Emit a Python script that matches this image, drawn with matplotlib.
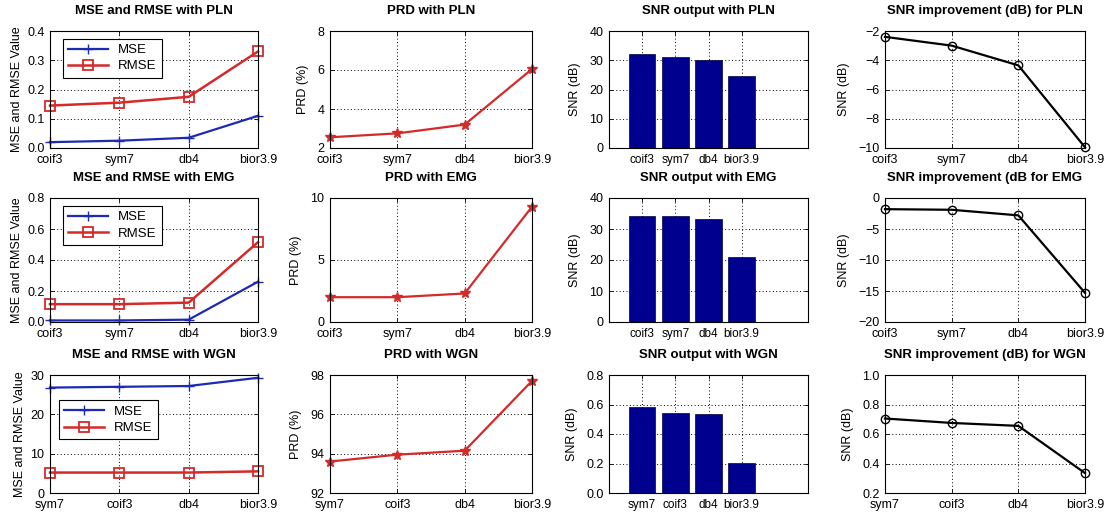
import matplotlib
matplotlib.use("Agg")
import matplotlib.pyplot as plt

plt.rcParams['font.family'] = ['Liberation Sans', 'DejaVu Sans']

# wavelet labels
labels_a = ["coif3", "sym7", "db4", "bior3.9"]
labels_b = ["sym7", "coif3", "db4", "bior3.9"]

# MSE / RMSE
mse_pln = [0.02, 0.025, 0.035, 0.11]
rmse_pln = [0.145, 0.155, 0.175, 0.33]
mse_emg = [0.01, 0.01, 0.015, 0.26]
rmse_emg = [0.115, 0.115, 0.125, 0.515]
mse_wgn = [26.8, 27.0, 27.2, 29.3]
rmse_wgn = [5.2, 5.2, 5.2, 5.5]

# PRD (%)
prd_pln = [2.55, 2.75, 3.2, 6.05]
prd_emg = [2.0, 2.0, 2.3, 9.3]
prd_wgn = [93.6, 93.95, 94.15, 97.7]

# SNR output (dB)
snr_pln = [32.0, 31.2, 30.0, 24.6]
snr_emg = [34.3, 34.3, 33.3, 21.0]
snr_wgn = [0.58, 0.545, 0.535, 0.205]

# SNR improvement (dB)
imp_pln = [-2.4, -3.0, -4.35, -9.95]
imp_emg = [-1.8, -1.9, -2.8, -15.3]
imp_wgn = [0.705, 0.675, 0.655, 0.335]

W, H = 1109, 512
cols = [(50, 258), (330, 532), (609, 808), (885, 1085)]
rows = [(31, 148), (198, 322), (375, 493)]

BLUE = "#1c2ab4"
RED = "#d42a2a"
NAVY = "#00008f"


def MakeAx(fig, r, c):
    l, rr = cols[c]
    t, b = rows[r]
    ax = fig.add_axes([l / W, 1 - b / H, (rr - l) / W, (b - t) / H])
    ax.tick_params(direction="in", length=3, width=0.6, labelsize=9,
                   top=True, right=True)
    ax.tick_params(axis="y", pad=4)
    ax.tick_params(axis="x", pad=4)
    for s in ax.spines.values():
        s.set_linewidth(0.8)
    ax.grid(True, linestyle=(0, (1, 2.5)), color="black", linewidth=0.7)
    return ax


def SetTitle(ax, title):
    ax.set_title(title, fontsize=9.5, fontweight="bold", pad=12)


def LinePanel(ax, labels, ys, yl, yticks, ylabel, title, color, marker, ms, mfc):
    x = range(1, len(labels) + 1)
    ax.plot(x, ys, color=color, marker=marker, markersize=ms,
            markerfacecolor=mfc, linewidth=1.6, clip_on=False)
    ax.set_xlim(1, 4)
    ax.set_ylim(*yl)
    ax.set_yticks(yticks)
    ax.set_xticks(list(x))
    ax.set_xticklabels(labels)
    ax.set_ylabel(ylabel, fontsize=9, labelpad=6)
    SetTitle(ax, title)


def MsePanel(ax, labels, mse, rmse, yl, yticks, title, anchor):
    x = range(1, len(labels) + 1)
    ax.plot(x, mse, color=BLUE, marker="+", markersize=7, linewidth=1.6,
            label="MSE", clip_on=False)
    ax.plot(x, rmse, color=RED, marker="s", markersize=7, markerfacecolor="none",
            markeredgewidth=1.3, linewidth=1.8, label="RMSE", clip_on=False)
    ax.set_xlim(1, 4)
    ax.set_ylim(*yl)
    ax.set_yticks(yticks)
    ax.set_xticks(list(x))
    ax.set_xticklabels(labels)
    ax.set_ylabel("MSE and RMSE Value", fontsize=9, labelpad=3)
    SetTitle(ax, title)
    leg = ax.legend(loc="upper left", bbox_to_anchor=anchor, fontsize=9.5,
                    fancybox=False, framealpha=1, edgecolor="black",
                    handlelength=3, borderpad=0.4, labelspacing=0.3)
    leg.get_frame().set_linewidth(0.8)


def BarPanel(ax, labels, ys, yl, yticks, title):
    x = list(range(1, len(labels) + 1))
    ax.bar(x, ys, width=0.8, color=NAVY, edgecolor="#000040", linewidth=0.5)
    ax.set_axisbelow(True)
    ax.set_xlim(0, 6)
    ax.set_ylim(*yl)
    ax.set_yticks(yticks)
    ax.set_xticks(x)
    ax.set_xticklabels(labels)
    ax.tick_params(axis="x", labelsize=8.5)
    ax.set_ylabel("SNR (dB)", fontsize=9, labelpad=6)
    SetTitle(ax, title)


def main():
    fig = plt.figure(figsize=(W / 100, H / 100), dpi=100)

    MsePanel(MakeAx(fig, 0, 0), labels_a, mse_pln, rmse_pln, (0, 0.4),
             [0, 0.1, 0.2, 0.3, 0.4], "MSE and RMSE with PLN", (0.03, 0.99))
    MsePanel(MakeAx(fig, 1, 0), labels_a, mse_emg, rmse_emg, (0, 0.8),
             [0, 0.2, 0.4, 0.6, 0.8], "MSE and RMSE with EMG", (0.03, 0.99))
    MsePanel(MakeAx(fig, 2, 0), labels_b, mse_wgn, rmse_wgn, (0, 30),
             [0, 10, 20, 30], "MSE and RMSE with WGN", (0.01, 0.84))

    LinePanel(MakeAx(fig, 0, 1), labels_a, prd_pln, (2, 8), [2, 4, 6, 8],
              "PRD (%)", "PRD with PLN", RED, "*", 7, RED)
    LinePanel(MakeAx(fig, 1, 1), labels_a, prd_emg, (0, 10), [0, 5, 10],
              "PRD (%)", "PRD with EMG", RED, "*", 7, RED)
    LinePanel(MakeAx(fig, 2, 1), labels_b, prd_wgn, (92, 98), [92, 94, 96, 98],
              "PRD (%)", "PRD with WGN", RED, "*", 7, RED)

    BarPanel(MakeAx(fig, 0, 2), labels_a, snr_pln, (0, 40), [0, 10, 20, 30, 40],
             "SNR output with PLN")
    BarPanel(MakeAx(fig, 1, 2), labels_a, snr_emg, (0, 40), [0, 10, 20, 30, 40],
             "SNR output with EMG")
    BarPanel(MakeAx(fig, 2, 2), labels_b, snr_wgn, (0, 0.8), [0, 0.2, 0.4, 0.6, 0.8],
             "SNR output with WGN")

    LinePanel(MakeAx(fig, 0, 3), labels_a, imp_pln, (-10, -2), [-10, -8, -6, -4, -2],
              "SNR (dB)", "SNR improvement (dB) for PLN", "black", "o", 6, "none")
    LinePanel(MakeAx(fig, 1, 3), labels_a, imp_emg, (-20, 0), [-20, -15, -10, -5, 0],
              "SNR (dB)", "SNR improvement (dB for EMG", "black", "o", 6, "none")
    LinePanel(MakeAx(fig, 2, 3), labels_b, imp_wgn, (0.2, 1), [0.2, 0.4, 0.6, 0.8, 1],
              "SNR (dB)", "SNR improvement (dB) for WGN", "black", "o", 6, "none")

    fig.savefig("out.png", dpi=100)
    return


if __name__ == "__main__":
    main()
